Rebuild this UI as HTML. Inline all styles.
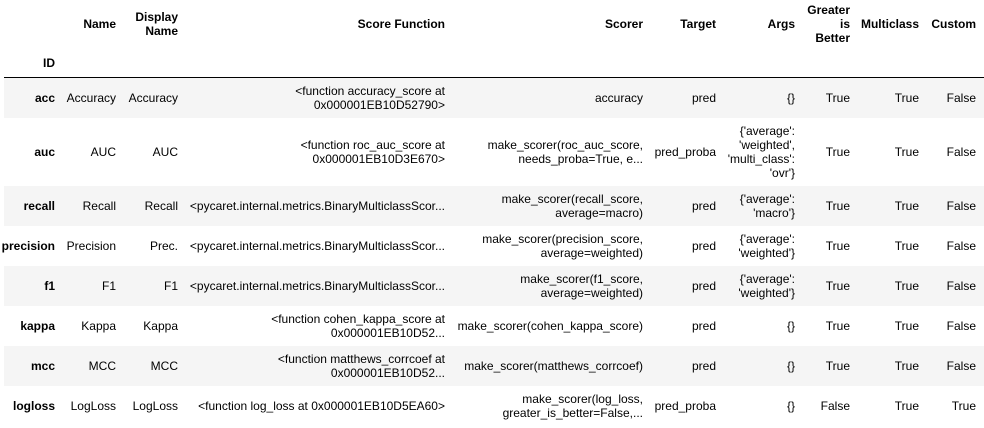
<!DOCTYPE html>
<html><head><meta charset="utf-8"><style>
body{margin:0;width:984px;height:428px;background:#fff;overflow:hidden;font-family:"Liberation Sans",Arial,sans-serif;font-size:12px;color:#000;position:relative}
.r{position:absolute;left:4px;width:980px}
.g{background:#f5f5f5}
.c{position:absolute;left:0;display:flex;align-items:center;justify-content:flex-end;text-align:right;white-space:nowrap;line-height:14px}
.b{font-weight:bold}
.hl{position:absolute;left:4px;width:980px;top:77px;height:1px;background:#000}
</style></head><body>
<div class="r g" style="top:78px;height:40px"></div>
<div class="r g" style="top:186px;height:40px"></div>
<div class="r g" style="top:266px;height:40px"></div>
<div class="r g" style="top:346px;height:40px"></div>
<div class="hl"></div>

<!-- header -->
<div class="c b" style="top:0;height:47px;width:116px">Name</div>
<div class="c b" style="top:0;height:47px;width:178px">Display<br>Name</div>
<div class="c b" style="top:0;height:47px;width:445px">Score Function</div>
<div class="c b" style="top:0;height:47px;width:643px">Scorer</div>
<div class="c b" style="top:0;height:47px;width:716px">Target</div>
<div class="c b" style="top:0;height:47px;width:795px">Args</div>
<div class="c b" style="top:0;height:47px;width:850px">Greater<br>is<br>Better</div>
<div class="c b" style="top:0;height:47px;width:919px">Multiclass</div>
<div class="c b" style="top:0;height:47px;width:976px">Custom</div>
<div class="c b" style="top:50px;height:26px;width:55px">ID</div>

<!-- acc -->
<div class="c b" style="top:78px;height:40px;width:55px">acc</div>
<div class="c" style="top:78px;height:40px;width:116px">Accuracy</div>
<div class="c" style="top:78px;height:40px;width:178px">Accuracy</div>
<div class="c" style="top:78px;height:40px;width:445px">&lt;function accuracy_score at<br>0x000001EB10D52790&gt;</div>
<div class="c" style="top:78px;height:40px;width:643px">accuracy</div>
<div class="c" style="top:78px;height:40px;width:716px">pred</div>
<div class="c" style="top:78px;height:40px;width:795px">{}</div>
<div class="c" style="top:78px;height:40px;width:850px">True</div>
<div class="c" style="top:78px;height:40px;width:919px">True</div>
<div class="c" style="top:78px;height:40px;width:976px">False</div>

<!-- auc -->
<div class="c b" style="top:118px;height:68px;width:55px">auc</div>
<div class="c" style="top:118px;height:68px;width:116px">AUC</div>
<div class="c" style="top:118px;height:68px;width:178px">AUC</div>
<div class="c" style="top:118px;height:68px;width:445px">&lt;function roc_auc_score at<br>0x000001EB10D3E670&gt;</div>
<div class="c" style="top:118px;height:68px;width:643px">make_scorer(roc_auc_score,<br>needs_proba=True, e...</div>
<div class="c" style="top:118px;height:68px;width:716px">pred_proba</div>
<div class="c" style="top:118px;height:68px;width:795px">{'average':<br>'weighted',<br>'multi_class':<br>'ovr'}</div>
<div class="c" style="top:118px;height:68px;width:850px">True</div>
<div class="c" style="top:118px;height:68px;width:919px">True</div>
<div class="c" style="top:118px;height:68px;width:976px">False</div>

<!-- recall -->
<div class="c b" style="top:186px;height:40px;width:55px">recall</div>
<div class="c" style="top:186px;height:40px;width:116px">Recall</div>
<div class="c" style="top:186px;height:40px;width:178px">Recall</div>
<div class="c" style="top:186px;height:40px;width:445px">&lt;pycaret.internal.metrics.BinaryMulticlassScor...</div>
<div class="c" style="top:186px;height:40px;width:643px">make_scorer(recall_score,<br>average=macro)</div>
<div class="c" style="top:186px;height:40px;width:716px">pred</div>
<div class="c" style="top:186px;height:40px;width:795px">{'average':<br>'macro'}</div>
<div class="c" style="top:186px;height:40px;width:850px">True</div>
<div class="c" style="top:186px;height:40px;width:919px">True</div>
<div class="c" style="top:186px;height:40px;width:976px">False</div>

<!-- precision -->
<div class="c b" style="top:226px;height:40px;width:55px">precision</div>
<div class="c" style="top:226px;height:40px;width:116px">Precision</div>
<div class="c" style="top:226px;height:40px;width:178px">Prec.</div>
<div class="c" style="top:226px;height:40px;width:445px">&lt;pycaret.internal.metrics.BinaryMulticlassScor...</div>
<div class="c" style="top:226px;height:40px;width:643px">make_scorer(precision_score,<br>average=weighted)</div>
<div class="c" style="top:226px;height:40px;width:716px">pred</div>
<div class="c" style="top:226px;height:40px;width:795px">{'average':<br>'weighted'}</div>
<div class="c" style="top:226px;height:40px;width:850px">True</div>
<div class="c" style="top:226px;height:40px;width:919px">True</div>
<div class="c" style="top:226px;height:40px;width:976px">False</div>

<!-- f1 -->
<div class="c b" style="top:266px;height:40px;width:55px">f1</div>
<div class="c" style="top:266px;height:40px;width:116px">F1</div>
<div class="c" style="top:266px;height:40px;width:178px">F1</div>
<div class="c" style="top:266px;height:40px;width:445px">&lt;pycaret.internal.metrics.BinaryMulticlassScor...</div>
<div class="c" style="top:266px;height:40px;width:643px">make_scorer(f1_score,<br>average=weighted)</div>
<div class="c" style="top:266px;height:40px;width:716px">pred</div>
<div class="c" style="top:266px;height:40px;width:795px">{'average':<br>'weighted'}</div>
<div class="c" style="top:266px;height:40px;width:850px">True</div>
<div class="c" style="top:266px;height:40px;width:919px">True</div>
<div class="c" style="top:266px;height:40px;width:976px">False</div>

<!-- kappa -->
<div class="c b" style="top:306px;height:40px;width:55px">kappa</div>
<div class="c" style="top:306px;height:40px;width:116px">Kappa</div>
<div class="c" style="top:306px;height:40px;width:178px">Kappa</div>
<div class="c" style="top:306px;height:40px;width:445px">&lt;function cohen_kappa_score at<br>0x000001EB10D52...</div>
<div class="c" style="top:306px;height:40px;width:643px">make_scorer(cohen_kappa_score)</div>
<div class="c" style="top:306px;height:40px;width:716px">pred</div>
<div class="c" style="top:306px;height:40px;width:795px">{}</div>
<div class="c" style="top:306px;height:40px;width:850px">True</div>
<div class="c" style="top:306px;height:40px;width:919px">True</div>
<div class="c" style="top:306px;height:40px;width:976px">False</div>

<!-- mcc -->
<div class="c b" style="top:346px;height:40px;width:55px">mcc</div>
<div class="c" style="top:346px;height:40px;width:116px">MCC</div>
<div class="c" style="top:346px;height:40px;width:178px">MCC</div>
<div class="c" style="top:346px;height:40px;width:445px">&lt;function matthews_corrcoef at<br>0x000001EB10D52...</div>
<div class="c" style="top:346px;height:40px;width:643px">make_scorer(matthews_corrcoef)</div>
<div class="c" style="top:346px;height:40px;width:716px">pred</div>
<div class="c" style="top:346px;height:40px;width:795px">{}</div>
<div class="c" style="top:346px;height:40px;width:850px">True</div>
<div class="c" style="top:346px;height:40px;width:919px">True</div>
<div class="c" style="top:346px;height:40px;width:976px">False</div>

<!-- logloss -->
<div class="c b" style="top:386px;height:40px;width:55px">logloss</div>
<div class="c" style="top:386px;height:40px;width:116px">LogLoss</div>
<div class="c" style="top:386px;height:40px;width:178px">LogLoss</div>
<div class="c" style="top:386px;height:40px;width:445px">&lt;function log_loss at 0x000001EB10D5EA60&gt;</div>
<div class="c" style="top:386px;height:40px;width:643px">make_scorer(log_loss,<br>greater_is_better=False,...</div>
<div class="c" style="top:386px;height:40px;width:716px">pred_proba</div>
<div class="c" style="top:386px;height:40px;width:795px">{}</div>
<div class="c" style="top:386px;height:40px;width:850px">False</div>
<div class="c" style="top:386px;height:40px;width:919px">True</div>
<div class="c" style="top:386px;height:40px;width:976px">True</div>
</body></html>
